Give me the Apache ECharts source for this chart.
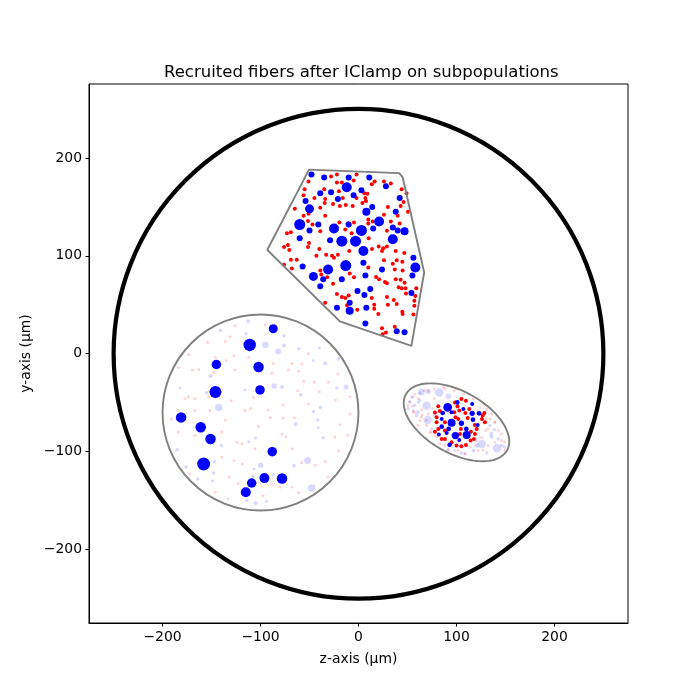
<!DOCTYPE html>
<html>
<head>
<meta charset="utf-8">
<script src="https://cdn.jsdelivr.net/npm/echarts@6/dist/echarts.min.js"></script>
<style>html,body{margin:0;padding:0;background:#fff}#chart{width:700px;height:700px}</style>
</head>
<body>
<div id="chart"></div>
<script>
// ---- Outlines (µm) ----
const circleZ = [0, -100];
const circleY = [0, -60];
const circleR = [250, 100];
const ellipseCenter = [100, -70];
const ellipseAxes = [59, 31.6];
const ellipseDeg = -29;
const polyZ = [-50.5, 41.5, 45, 67, 54, -19, -93, -91];
const polyY = [188, 184.5, 180.5, 83, 8, 33, 106, 110];

// ---- Axis ticks ----
const tickValues = [-200, -100, 0, 100, 200];

// ---- Polygon subpopulation: recruited (blue) / not recruited (red) [z, y, diameter] ----
const polyBlue = [
 [-12,170,10],[-50,148,9],[-60,132,11],[-25,128,10],[3,126,11],[21,135,10],[-17,115,11],[-3,115,11],
 [5,105,10],[8,145,8],[35,117,10],[47,125,8],[-31,86,10],[-13,90,11],[-46,79,9],[58,88,10],[-9,44,8],
 [-48,183,6],[-35,180,6],[-10,180,6],[11,180,6],[28,171,6],[-39,164,6],[-28,165,6],[-5,162,6],[3,167,6],
 [-21,158,6],[-54,156,6],[42,159,6],[14,150,6],[38,145,6],[-41,132,6],[-50,126,6],[-10,132,6],[15,128,6],
 [35,129,6],[40,126,6],[-60,118,6],[-29,116,6],[56,98,6],[-57,89,6],[5,93,6],[24,86,6],[-36,76,6],
 [-17,76,6],[7,80,6],[-39,69,6],[55,80,6],[12,66,6],[-1,64,6],[6,60,6],[54,62,6],[-9,52,6],[-22,47,6],
 [8,47,6],[7,31,6],[39,23,6],[47,22,6]
];
const polyRed = [
 [-22,183],[-28,181],[-2,183],[16.5,176],[26,176],[33,174],[-51,176],[-22,175],[-17,175],[-5,177],[13.5,173],
 [-55,168],[-35,168],[-20,166],[9,163.5],[6,164],[-2,159],[7,159],[7.6,156],[-16,159],[44,168],[46,155],[49,164],
 [-56,162],[-45,159],[-34,158],[-34.5,154],[-26,153],[-19,151],[-13,152],[-6,151],[4,154],[30,150],[43,151],[50.5,145],
 [-65,148],[-39,149],[-56,141],[-51,143],[-34,141],[26,142],[40,141],[10,137],[10,133],[14.5,135],
 [-51.5,135.7],[-47,132],[-19.5,134],[-11,133],[-4.6,134],[33,135],[42,133],[-39,125],[-73,123],[-69,124],[-7,123],
 [29,125.5],[-13.5,127],[-76,109],[-72,111],[-50.5,113],[-70.6,106],[-51.5,109],[-40,107],[-33,101],[-9.4,105],
 [10.4,118],[13.8,107],[20.6,109.5],[25.3,107.8],[29,109.5],[24,105],[38,105],[46.7,103],
 [-69,96],[-63,96],[-43,100],[-27,100],[-25,98],[-21,101],[26,95.6],[39,95.6],[44.7,94],
 [-76,91],[-68,87],[-39,85],[-9,82],[10,88],[35,92],[37,86],[45,85],
 [-38,81],[-32,78],[-4.6,78],[18,78.5],[21,76],[38,76],[43,75.5],[47,72.4],
 [-26,71.4],[29,72],[27,73.4],[41,68],[44,67],[48,67],[59,67],
 [-22,61],[-17,58],[-13.5,57],[-10,59.5],[13.5,57],[29,58],[36,55],[58,59],[48.5,61.5],
 [-34,52],[-11.7,49.6],[-1.2,45],[16,50],[16,46],[30,50],[39,50.7],[57,54],[57,49],
 [20.2,40.5],[45,40.5],[56,40],[44.7,43],[37,27.5],[24,26],[28,21.7],[24.6,20]
];

// ---- Circular fascicle ----
const circBlue = [
 [-87,25.5,9],[-111,9,12.5],[-145,-11,9.5],[-102,-13.6,10.5],[-146,-39,12],[-100.5,-37,9.5],
 [-181,-65,10.5],[-161,-75,10.5],[-151,-87,10.5],[-88,-100,9.5],[-158,-112.6,13],[-96,-127,10],
 [-78,-127.5,10.5],[-109,-132,9.5],[-115,-141.5,10]
];
const circBlueFaint = [
 [-112.6,33.3,4],[-141,23.8,3.5],[-115,20.4,3],[-76,18.4,3.5],[-95,9,6.5],[-82,2.4,6],[-76,8.5,4],[-61,5,3.5],
 [-40,5.8,3],[-151,-22.7,4],[-182,-35,3],[-155,-39.8,3.5],[-116,-37,3],[-86,-33,5.5],[-78,-34,4],[-59,-42,3.5],
 [-34,-10,4],[-46,-7,3],[-20.6,-5.4,3.5],[-12.7,-34,5],[-22,-35,3.5],[-142.6,-55,7.5],[-46,-59,3.5],[-41.6,-67.6,3.5],
 [-39,-55,3.5],[-64,-71.7,4],[-41,-75.5,3],[-36,-85.7,3.5],[-105,-86,3],[-112,-90,3],[-140,-94,3.5],[-185,-98,3.5],
 [-147,-110,3.5],[-176,-115.6,3.5],[-148,-121.7,3.5],[-164,-128,3.5],[-149,-130,3],[-52,-109,7],[-65.8,-114.5,4],
 [-99.8,-114,5.5],[-106.6,-117.6,3],[-107.6,-125.5,3.5],[-47.7,-137,7.5],[-114,-150,3.5],[-105,-152.7,4],
 [-94,-150.6,3],[-87,-123.4,3]
];
const circRedFaint = [
 [-126,28.6],[-95,29.6],[-154,11.5],[-136,12.6],[-131,17.3],[-173,-0.7],[-146,-3.7],[-135,-7],[-127,-2],[-112,-3.7],
 [-87,-9.9],[-68,-9.9],[-58,-10.5],[-51,0.3],[-184,-14],[-169.5,-16.6],[-163,-16],[-148,-19],[-126,-16.3],[-88.5,-20],
 [-71.6,-16.3],[-61,-18],[-21,-20.7],[-30.8,-29],[-56,-28],[-45,-29],[-62,-37.7],[-40,-38.8],[-177,-46],[-173.6,-43.9],
 [-166.8,-45.6],[-153,-44],[-130,-48],[-107,-44.6],[-92,-57.4],[-76.7,-52.3],[-51,-51.3],[-23.5,-47.2],[-8.7,-43.9],
 [-184,-58],[-167,-58],[-151.5,-58],[-115.8,-58],[-110,-55.8],[-90,-65],[-77,-65.6],[-65.5,-65],[-19,-72.4],[-8.7,-61.5],
 [-191,-66.6],[-136,-68],[-102,-74],[-78,-82],[-74,-84.7],[-24,-85],[-11,-83],[-167,-83.6],[-139.5,-79.6],[-184,-80],
 [-119,-92],[-124,-90.5],[-105.6,-97],[-67.5,-97],[-20.6,-99],[-139.5,-105.8],[-127,-109],[-118.5,-112.5],[-58,-111],
 [-44,-114],[-34,-110],[-172,-122.7],[-132,-126],[-122.6,-132.6],[-80,-136],[-68,-136],[-61,-142],[-146,-141.5],
 [-133,-148],[-97.4,-145],[-30.8,-126],[-88.5,-133]
];

// ---- Elliptic fascicle ----
const ellBlue = [
 [91,-54.7,8.7],[100.8,-49.7,4.7],[116,-51.3,4],[107,-56.4,4],[116,-60.9,5.3],[123,-60.9,4.7],[85.9,-60.5,4.7],
 [95,-59.8,4],[84.9,-66.6,4],[95,-70.4,8],[105,-71,5.3],[116.8,-67.3,4.7],[121.6,-72.7,4],[84.9,-74.5,4.7],
 [92,-76.8,4.7],[110,-76.8,4.7],[98.8,-83.6,7.3],[110.4,-82.9,8],[90,-80.9,4],[82,-82.6,4],[93,-93,4.7],[102.8,-88,4]
];
const ellRed = [
 [105,-46.2],[109.6,-47.9],[98.4,-49.7],[81.4,-53.7],[83,-58.5],[78,-59.9],[101,-53.7],[102.8,-58],[109,-60.5],
 [113,-56.4],[128.4,-60.5],[126,-66.6],[129,-70],[118.8,-72.7],[111.4,-65.6],[99,-64.9],[101.8,-66.6],[88.2,-70],
 [79.7,-70],[81.4,-76.8],[78,-79.6],[88.2,-87],[84.9,-87],[95,-90.5],[100,-93.8],[105,-94.6],[114.4,-88.7],
 [117.8,-87],[118.8,-81.9],[120.6,-76.8],[109.6,-93.2],[88.2,-78.5],[104.5,-76.8],[103.5,-81.9],[97.7,-59.8],
 [126.7,-63.2],[79.7,-64.9],[114.7,-79.6]
];
const ellBlueFaint = [
 [54.3,-44.2,3.5],[62.7,-40,3],[71.2,-38.8,5],[82.4,-39.5,8.5],[91.6,-43.5,5.5],[50.8,-55.8,3.5],[69.5,-53,8.5],
 [56,-58.1,3],[59.4,-63.2,3.5],[70.6,-67.6,8.5],[74.7,-76.8,3.5],[125.7,-92.1,8.5],[141.3,-96.6,8.5],[135.8,-84.7,4],
 [134.1,-73.4,3.5],[138.5,-77.5,3.5],[142.6,-87,3.5],[117.5,-98.9,4],[130.8,-101.3,3.5],[146,-93.8,3.5],
 [120.6,-93.8,5],[105,-101.3,3.5],[98.4,-98.9,3],[61,-49.7,3],
 [64,-39,7],[60.7,-59.5,4],[77.7,-62.9,3.5],[52.2,-49.3,3.5],[57.3,-52.7,3.5],[62.4,-47.6,3.5],[108.3,-102,3.5],
 [120.2,-88.4,4],[135.4,-81.6,4],[91.3,-98.6,3.5],[149,-95.2,3.5]
];
const ellRedFaint = [
 [57.6,-41.1],[67.1,-37.7],[77.3,-36],[86.5,-34.3],[97.7,-37.7],[107,-41.1],[52.5,-49],[61,-45.6],[77.3,-45.6],
 [64.5,-57.1],[54.9,-53.7],[75.3,-55.8],[65.1,-62.5],[62.7,-68.3],[69.6,-73.4],[78,-83.6],[83,-92.1],[91.6,-97.2],
 [98.4,-104],[109,-102.3],[113.7,-95.6],[122,-98.9],[132.4,-93.8],[139.2,-90.5],[146,-88.7],[149.4,-98.9],
 [125.7,-85.4],[129.7,-78.5],[134.1,-66.6],[139.2,-70],[142.6,-78.5],[123.9,-54.8],[117,-46.2],[130.8,-56.4],
 [135.8,-61.5],[146,-82],[57.6,-59.9],[71.2,-61.5],[73,-80.3],
 [55.6,-44.2],[50.5,-52.7],[55.6,-59.5],[64,-64.6],[69.2,-68],[60.7,-73.1],[74.3,-80],[81.1,-85],[88,-93.5],
 [101.5,-98.6],[127,-98.6],[149,-90.1],[132.1,-76.5],[130.4,-66.3],[139,-69.7],[128.7,-52.7],[99.8,-35.7],
 [88,-35.7],[70.9,-37.4]
];

const FONT = 'DejaVu Sans';
const chart = echarts.init(document.getElementById('chart'), null, {renderer: 'canvas'});
const minusFmt = v => String(v).replace('-', '\u2212');

function axisCommon(name, nameGap, maxVal) {
  return {
    type: 'value', min: -275, max: maxVal,
    name: name, nameLocation: 'middle', nameGap: nameGap,
    nameTextStyle: {fontFamily: FONT, fontSize: 13.9, color: '#000'},
    axisLine: {show: true, onZero: false, lineStyle: {color: '#000', width: 1}},
    axisTick: {show: true, length: 3.5, inside: false, customValues: tickValues, lineStyle: {color: '#000', width: 1}},
    axisLabel: {show: true, margin: 7, customValues: tickValues, formatter: minusFmt, fontFamily: FONT, fontSize: 13.9, color: '#000'},
    splitLine: {show: false}
  };
}

const scatterSized = (data, color, z) => ({
  type: 'scatter', data: data, z: z, silent: true,
  symbol: 'circle', symbolSize: v => v[2],
  itemStyle: {color: color, opacity: 1}
});
const scatterFixed = (data, color, size, z) => ({
  type: 'scatter', data: data, z: z, silent: true,
  symbol: 'circle', symbolSize: size,
  itemStyle: {color: color, opacity: 1}
});

const option = {
  animation: false,
  backgroundColor: '#fff',
  title: {
    text: 'Recruited fibers after IClamp on subpopulations',
    left: 159, top: 59,
    textStyle: {fontFamily: FONT, fontSize: 16.5, fontWeight: 'normal', color: '#000'}
  },
  grid: {left: 89, right: 72, top: 84, bottom: 77, show: true, borderColor: '#000', borderWidth: 1, backgroundColor: 'transparent'},
  xAxis: axisCommon('z-axis (\u00b5m)', 29, 275),
  yAxis: axisCommon('y-axis (\u00b5m)', 50, 275.5),
  series: [
    scatterFixed(circRedFaint, 'rgba(255,0,0,0.17)', 3, 2),
    scatterFixed(ellRedFaint, 'rgba(255,0,0,0.17)', 3, 2),
    scatterSized(circBlueFaint, 'rgba(0,0,255,0.15)', 2),
    scatterSized(ellBlueFaint, 'rgba(0,0,255,0.15)', 2),
    scatterFixed(polyRed, '#ff0000', 4, 3),
    scatterFixed(ellRed, '#ff0000', 4, 3),
    scatterSized(polyBlue, '#0000ff', 4),
    scatterSized(circBlue, '#0000ff', 4),
    scatterSized(ellBlue, '#0000ff', 4),
    {
      type: 'custom', coordinateSystem: 'cartesian2d', silent: true, z: 5, clip: false,
      data: circleR.map((r, i) => [circleZ[i], circleY[i], r]),
      renderItem: (params, api) => {
        const c = api.coord([api.value(0), api.value(1)]);
        const s = api.size([api.value(2), api.value(2)]);
        const outer = params.dataIndex === 0;
        return {type: 'circle', shape: {cx: c[0], cy: c[1], r: (s[0] + s[1]) / 2},
          style: {fill: 'none', stroke: outer ? '#000' : '#808080', lineWidth: outer ? 4.2 : 1.9}};
      }
    },
    {
      type: 'custom', coordinateSystem: 'cartesian2d', silent: true, z: 5, clip: false,
      data: [ellipseCenter],
      renderItem: (params, api) => {
        const th = ellipseDeg * Math.PI / 180;
        const pts = [];
        for (let k = 0; k < 120; k++) {
          const t = k * 2 * Math.PI / 120;
          const lx = ellipseAxes[0] * Math.cos(t), ly = ellipseAxes[1] * Math.sin(t);
          pts.push(api.coord([api.value(0) + lx * Math.cos(th) - ly * Math.sin(th),
                              api.value(1) + lx * Math.sin(th) + ly * Math.cos(th)]));
        }
        return {type: 'polygon', shape: {points: pts}, style: {fill: 'none', stroke: '#808080', lineWidth: 1.9}};
      }
    },
    {
      type: 'custom', coordinateSystem: 'cartesian2d', silent: true, z: 5, clip: false,
      data: [[polyZ[0], polyY[0]]],
      renderItem: (params, api) => {
        const pts = polyZ.map((z, i) => api.coord([z, polyY[i]]));
        return {type: 'polygon', shape: {points: pts}, style: {fill: 'none', stroke: '#808080', lineWidth: 1.9, lineJoin: 'round'}};
      }
    }
  ]
};
chart.setOption(option);
</script>
</body>
</html>
